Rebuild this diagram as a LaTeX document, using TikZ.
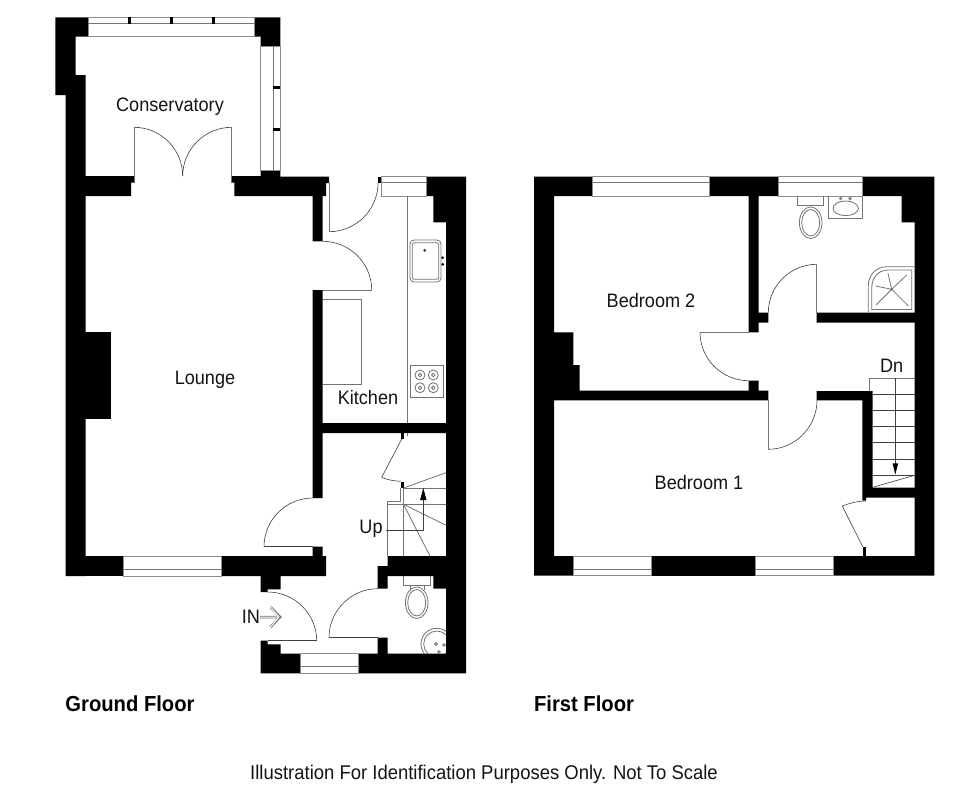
\documentclass[tikz,border=0pt]{standalone}
\usepackage{fontspec}
\setmainfont[FakeStretch=0.93]{Liberation Sans}
\usetikzlibrary{calc}
\tikzset{
  wall/.style={fill=black,draw=none},
  thin line/.style={draw=black!55,line width=0.6pt},
  dark line/.style={draw=black!75,line width=0.45pt},
  winframe/.style={draw=black!45,line width=0.75pt,fill=white},
  label/.style={inner sep=0pt,text=black!92!white,font=\fontsize{14.6}{16}\selectfont},
  title/.style={inner sep=0pt,text=black,font=\fontsize{16.3}{18}\selectfont\bfseries},
}
\newcommand{\qa}[3]{(#1) .. controls ($(#1)!0.55!(#2)$) and ($(#3)!0.55!(#2)$) .. (#3)}
\begin{document}
\begin{tikzpicture}[x=0.75pt,y=-0.75pt]
\useasboundingbox (0,0) rectangle (980,790);
\fill[white] (0,0) rectangle (980,790);

% ---------- GROUND FLOOR walls
\fill[wall] (55.3,17.3)--(88,17.3)--(88,36.7)--(75.7,36.7)--(75.7,75)--(85.5,75)--(85.5,576)--(65.7,576)--(65.7,95)--(55.3,95)--cycle;
\fill[wall] (85,176)--(134,176)--(134,182.7)--(131,182.7)--(131,196)--(85,196)--cycle;
\fill[wall] (231.7,176)--(260.7,176)--(260.7,170)--(280.3,170)--(280.3,176.7)--(329,176.7)--(329,183)--(326,183)--(326,196)--(322.7,196)--(322.7,241.3)--(312.7,241.3)--(312.7,196)--(234.3,196)--(234.3,182.7)--(231.7,182.7)--cycle;
\fill[wall] (312.7,290)--(322.7,290)--(322.7,423)--(446,423)--(446,433)--(322.7,433)--(322.7,498)--(312.7,498)--cycle;
\fill[wall] (85,332.3)--(111.3,332.3)--(111.3,419.3)--(85,419.3)--cycle;
\fill[wall] (65.7,556)--(123.7,556)--(123.7,576)--(65.7,576)--cycle;
\fill[wall] (221,556)--(312.7,556)--(312.7,546.7)--(322.7,546.7)--(322.7,556)--(326,556)--(326,576)--(280.7,576)--(280.7,589.3)--(267.7,589.3)--(267.7,592)--(260.7,592)--(260.7,576)--(221,576)--cycle;
% conservatory corner
\fill[wall] (254,17.3)--(280.3,17.3)--(280.3,46)--(260.7,46)--(260.7,36.7)--(254,36.7)--cycle;
% right outer wall and back
\fill[wall] (426.7,176.7)--(466,176.7)--(466,673.3)--(358.3,673.3)--(358.3,653.7)--(377.7,653.7)--(377.7,637.7)--(387.7,637.7)--(387.7,653.7)--(446,653.7)--(446,588.7)--(433.3,588.7)--(433.3,576)--(387.7,576)--(387.7,588.7)--(377.7,588.7)--(377.7,566)--(387.7,566)--(387.7,556)--(446,556)--(446,222.3)--(433.3,222.3)--(433.3,196)--(426.7,196)--cycle;
% porch
\fill[wall] (260.7,640.7)--(267.7,640.7)--(267.7,644.3)--(280.7,644.3)--(280.7,653.7)--(300,653.7)--(300,673.3)--(260.7,673.3)--cycle;
% jambs
\fill[wall] (377.7,176.7) rectangle (381.7,183);
\fill[wall] (401,433) rectangle (404.3,439);
\fill[wall] (401,482) rectangle (404.3,488);

% ---------- GROUND FLOOR windows
\draw[winframe] (88,17.3) rectangle (254,36.7);
\draw[thin line] (88,23.7)--(254,23.7);
\foreach \m in {129.3,171.3,213.7} \fill[wall] (\m-1.5,17.3) rectangle (\m+1.5,23.7);
\draw[winframe] (260.7,46) rectangle (280.3,170);
\draw[thin line] (273.3,46)--(273.3,170);
\foreach \m in {87.3,129} \fill[wall] (273.3,\m-1.5) rectangle (280.3,\m+1.5);
\draw[winframe] (381.7,176.7) rectangle (426.7,196);
\draw[thin line] (381.7,182.7)--(426.7,182.7);
\draw[winframe] (123.7,556) rectangle (221,576);
\draw[thin line] (123.7,569.3)--(221,569.3);
\draw[winframe] (300,653.7) rectangle (358.3,673.3);
\draw[thin line] (300,666.7)--(358.3,666.7);

% ---------- GROUND FLOOR doors
\draw[thin line] (134,182.7)--(134,127.3);
\draw[dark line] \qa{134,127.3}{182.7,127.3}{182.7,176};
\draw[thin line] (231.7,182.7)--(231.7,127.3);
\draw[dark line] \qa{231.7,127.3}{182.7,127.3}{182.7,176};
\draw[thin line] (329,183)--(329,231.7);
\draw[dark line] \qa{329,231.7}{378,231.7}{378,183};
\draw[thin line] (322.7,290)--(371.7,290);
\draw[dark line] \qa{371.7,290}{371.7,241.3}{322.7,241.3};
\draw[dark line] (312.7,546.7)--(264,546.7);
\draw[dark line] \qa{264,546.7}{264,498}{312.7,498};
\draw[dark line] (267.7,640.7)--(316.7,640.7);
\draw[dark line] \qa{316.7,640.7}{316.7,592}{267.7,592};
\draw[dark line] (377.7,637.7)--(329,637.7);
\draw[dark line] \qa{329,637.7}{329,588.7}{377.7,588.7};
% under-stair cupboard door
\draw[dark line] (401.7,439)--(381.7,477.3) .. controls (388,480) and (394,481) .. (400.7,481.3);

% ---------- kitchen fittings
\draw[thin line] (407,196)--(407,423);
\draw[thin line] (407,433)--(407,436);
\draw[thin line] (322.7,299.7)--(361.7,299.7)--(361.7,384.3)--(322.7,384.3);
\draw[thin line,rounded corners=3pt] (410,240) rectangle (441,282);
\draw[thin line,rounded corners=1.5pt] (412.3,242.7) rectangle (438.7,279.3);
\fill[black!80] (424.7,250.3) circle (1.5);
\fill[black] (442.7,257.7) circle (1.5) (442.7,264.3) circle (1.5);
\draw[thin line] (410.3,365) rectangle (443,397.3);
\foreach \cx/\cy in {420/375,433.3/375,420/387.7,433.3/387.7}{
  \draw[thin line] (\cx,\cy) circle (5);
  \draw[thin line] (\cx,\cy) circle (1.8);
}

% ---------- ground stairs
\draw[thin line] (403.5,488)--(446,472.7);
\draw[thin line] (403.5,488)--(446,488);
\draw[thin line,line width=0.8pt] (403.3,488)--(403.3,556);
\draw[thin line] (400.7,488)--(400.7,501)--(387.7,501)--(387.7,556);
\draw[thin line] (387.7,504.3)--(446,504.3);
\draw[thin line] (403.5,504.3)--(446,525.3);
\draw[thin line] (403.5,504.3)--(430,556);
\coordinate (upstart) at (385.7,530);
\draw[dark line] (upstart)--(423.3,530)--(423.3,498);
\fill[black] (423.3,488)--(426.5,500)--(420.1,500)--cycle;

% ---------- WC ground
\draw[thin line] (403.3,576)--(403.3,585.7)--(430,585.7)--(430,576);
\draw[thin line] (410.3,585.7)--(410.3,590) (424,585.7)--(424,590);
\draw[thin line] (416.7,602.7) ellipse (11.3 and 15.8);
\draw[thin line] (416.7,602.7) ellipse (9 and 13.2);
\begin{scope}
\clip (420,620) rectangle (446,653.7);
\draw[thin line] (436.7,644) circle (15.7);
\draw[thin line] (436.7,644) circle (13);
\draw[thin line] (436,644) circle (1.5);
\draw[thin line] (444,645) circle (1.3);
\draw[thin line] (439,652) circle (1.3);
\end{scope}

% entry arrow
\draw[black!55,line width=1.9pt] (260,617)--(279,617) (270.5,607)--(280,617)--(270.5,627);
\draw[white,line width=0.75pt] (260,617)--(278.5,617) (270.5,607)--(279,617)--(270.5,627);

% ---------- FIRST FLOOR walls
\fill[wall] (534,176.7)--(592.7,176.7)--(592.7,196)--(554,196)--(554,332.3)--(573.3,332.3)--(573.3,365)--(579.7,365)--(579.7,390.6)--(748.7,390.6)--(748.7,380.7)--(758.7,380.7)--(758.7,390.6)--(768.3,390.6)--(768.3,400.3)--(554,400.3)--(554,556)--(573.3,556)--(573.3,575.7)--(534,575.7)--cycle;
\fill[wall] (709.3,176.7)--(778.3,176.7)--(778.3,196)--(758.7,196)--(758.7,312.7)--(768.3,312.7)--(768.3,322.7)--(758.7,322.7)--(758.7,332.3)--(748.7,332.3)--(748.7,196)--(709.3,196)--cycle;
\fill[wall] (816.7,312.7)--(914.7,312.7)--(914.7,222.3)--(901.7,222.3)--(901.7,196)--(862.7,196)--(862.7,176.7)--(934.3,176.7)--(934.3,575.7)--(833,575.7)--(833,556)--(914.7,556)--(914.7,497.7)--(866,497.7)--(866,500.7)--(862.3,500.7)--(862.3,400.3)--(816.7,400.3)--(816.7,391)--(872.7,391)--(872.7,487.7)--(914.7,487.7)--(914.7,322.7)--(816.7,322.7)--cycle;
\fill[wall] (651.3,556) rectangle (755.3,575.7);
\fill[wall] (862.7,546.7) rectangle (866,556);

% ---------- FIRST FLOOR windows
\draw[winframe] (592.7,176.7) rectangle (709.3,196);
\draw[thin line] (592.7,182.7)--(709.3,182.7);
\draw[winframe] (778.3,176.7) rectangle (862.7,196);
\draw[thin line] (778.3,182.7)--(862.7,182.7);
\draw[winframe] (573.3,556) rectangle (651.3,575.7);
\draw[thin line] (573.3,569.3)--(651.3,569.3);
\draw[winframe] (755.3,556) rectangle (833,575.7);
\draw[thin line] (755.3,569.3)--(833,569.3);

% ---------- FIRST FLOOR doors
\draw[thin line] (748.7,332.3)--(700,332.3);
\draw[dark line] \qa{700,332.3}{700,380.7}{748.7,380.7};
\draw[thin line] (816.7,312.7)--(816.7,264.3);
\draw[dark line] \qa{816.7,264.3}{768.3,264.3}{768.3,312.7};
\draw[thin line] (768,400.3)--(768,449.3);
\draw[dark line] \qa{768,449.3}{817,449.3}{817,400.3};
\draw[dark line] (866,501) .. controls (858,501) and (850,503) .. (842.3,506)--(862.7,546.7);

% ---------- bathroom fittings
\draw[thin line] (797.3,196)--(797.3,205.7)--(823.3,205.7)--(823.3,196);
\draw[thin line] (810.7,222.7) ellipse (11.3 and 15.8);
\draw[thin line] (810.7,222.7) ellipse (9 and 13.2);
\draw[thin line] (828.3,196)--(828.3,218.3)--(862.7,218.3)--(862.7,196);
\draw[thin line] (845.7,208.3) ellipse (12.7 and 7.3);
\draw[thin line] (840.7,198.5) circle (1.2) (850,198.5) circle (1.2);
% shower
\draw[thin line] (868.3,312.7)--(868.3,286) .. controls (868.3,275) and (876,266.7) .. (887,266.7)--(914.7,266.7);
\draw[thin line] (871.7,309.5)--(871.7,288) .. controls (871.7,278) and (878,270) .. (888,270)--(911.7,270)--(911.7,309.5)--cycle;
\coordinate (showerc) at (891.7,289.3);
\draw[thin line] (showerc)--(906.7,275) (showerc)--(908.3,306) (showerc)--(876,305) (showerc)--(875.7,286) (showerc)--(888,273.3);
\fill[black!60] (showerc) circle (1.2);

% ---------- first floor stairs
\draw[thin line] (869.3,391)--(869.3,378.3)--(914.7,378.3);
\draw[dark line] (872.7,394.3)--(914.7,394.3);
\foreach \yy in {410.3,426.7,442.7,459,475.3} \draw[dark line] (872.7,\yy)--(914.7,\yy);
\draw[dark line] (872.7,487.3)--(914.7,475.3);
\draw[dark line] (895.3,378.3)--(895.3,465);
\fill[black] (895.3,474.5)--(892.5,463.3)--(898.1,463.3)--cycle;

% ---------- labels
\node[label] (conservatory) at (170,106.5) {Conservatory};
\node[label] (lounge) at (205,380) {Lounge};
\node[label] (kitchen) at (368,398) {Kitchen};
\node[label] (up) at (371,529) {Up};
\node[label] (in) at (251,617) {IN};
\node[label] (bed2) at (651,301) {Bedroom 2};
\node[label] (bed1) at (699,482.3) {Bedroom 1};
\node[label] (dn) at (891.7,366) {Dn};
\node[title] (gf) at (130,704) {Ground Floor};
\node[title] (ff) at (584,704) {First Floor};
\node[label,font=\fontsize{14.9}{16}\selectfont] (note) at (484,774) {Illustration For Identification Purposes Only. Not To Scale};
\end{tikzpicture}
\end{document}
